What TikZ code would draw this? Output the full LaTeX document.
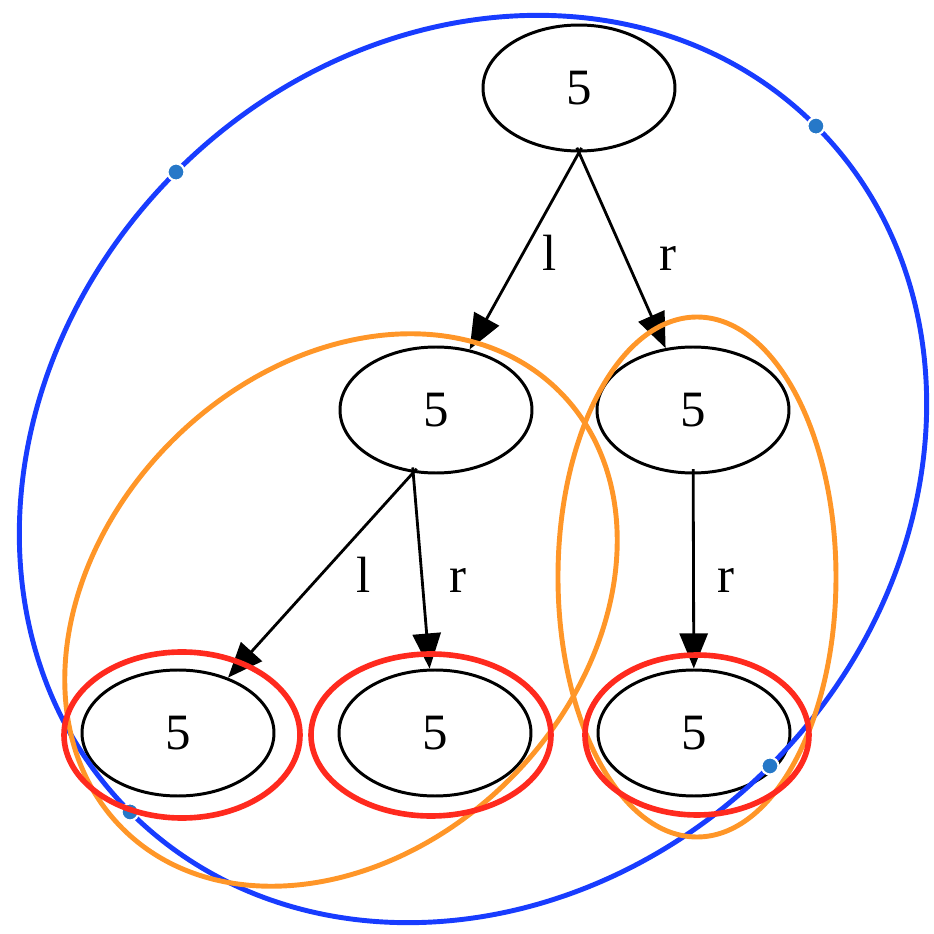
\documentclass[tikz,border=0pt]{standalone}
\usepackage{fontspec}
\setmainfont{Liberation Serif}
\usetikzlibrary{arrows.meta,shapes.geometric}
\definecolor{hullblue}{RGB}{24,60,255}
\definecolor{dotblue}{RGB}{38,120,200}
\definecolor{grouporange}{RGB}{255,150,40}
\definecolor{leafred}{RGB}{255,42,30}

\begin{document}
\begin{tikzpicture}[
    tree/.style={draw, ellipse, line width=0.85pt, minimum width=1.92cm, minimum height=1.26cm, inner sep=0pt, font=\fontsize{14.5}{17}\selectfont},
    edge/.style={line width=0.8pt, shorten <=-1.5pt, -{Triangle[length=10pt,width=8pt]}},
    lbl/.style={anchor=base, font=\fontsize{14.5}{17}\selectfont},
    hull/.style={hullblue, line width=1.4pt},
    hulldot/.style={fill=dotblue, draw=white, line width=0.6pt},
    group/.style={grouporange, line width=1.4pt},
    leaf/.style={leafred, line width=1.6pt}
]
    \useasboundingbox (0,0) rectangle (9.34,9.34);
    % The tree nodes.
        \node[tree] (top) at (5.79, 8.46) {5};
        \node[tree] (ml) at (4.36, 5.24) {5};
        \node[tree] (mr) at (6.93, 5.24) {5};
        \node[tree] (bl) at (1.78, 2.01) {5};
        \node[tree] (bm) at (4.35, 2.01) {5};
        \node[tree] (br) at (6.94, 2.01) {5};
    % The edges.
        \draw[edge] (top.south) -- (ml);
        \draw[edge] (top.south) -- (mr);
        \draw[edge] (ml.250) -- (bl);
        \draw[edge] (ml.250) -- (bm);
        \draw[edge] (mr) -- (br);
    % Below nodes are the labels.
        \node[lbl] (l1) at (5.50, 6.64) {l};
        \node[lbl] (r1) at (6.68, 6.64) {r};
        \node[lbl] (l2) at (3.64, 3.42) {l};
        \node[lbl] (r2) at (4.58, 3.42) {r};
        \node[lbl] (r3) at (7.26, 3.42) {r};
    % This draws the big blue ellipse with its four points.
    \begin{scope}[shift={(4.73,4.65)}, rotate=45]
        \draw[hull] (0,0) ellipse (4.85 and 4.20);
        \foreach \p in {(4.85,0),(-4.85,0),(0,4.20),(0,-4.20)}
            \filldraw[hulldot] \p circle (0.085);
    \end{scope}
    % The orange groups.
        \draw[group, rotate around={45:(3.41,3.24)}] (3.41,3.24) ellipse (3.09 and 2.39);
        \draw[group] (6.97,3.57) ellipse (1.39 and 2.60);
    % The red rings round the leaves.
        \draw[leaf] (1.82,1.99) ellipse (1.18 and 0.83);
        \draw[leaf] (4.31,1.99) ellipse (1.20 and 0.81);
        \draw[leaf] (6.97,1.99) ellipse (1.12 and 0.80);
\end{tikzpicture}
\end{document}
